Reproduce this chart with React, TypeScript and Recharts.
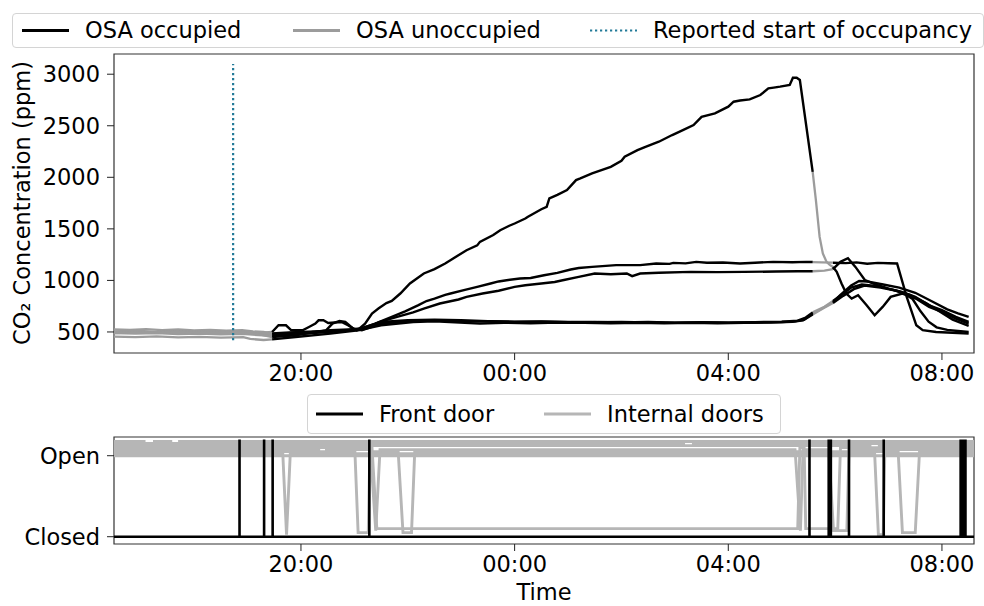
import React from "react";
import { LineChart, Line, XAxis, YAxis, ReferenceArea } from "recharts";

// time axis in hours since midnight of the first evening (32 = 08:00 next day)
const X_MIN = 16.5;
const X_MAX = 32.6;
const TIME_TICKS = [20, 24, 28, 32];
const CO2_MIN = 296;
const CO2_MAX = 3196;
const CO2_TICKS = [500, 1000, 1500, 2000, 2500, 3000];
const UNOCCUPIED = [
  [X_MIN, 19.46],
  [29.58, 29.96],
];
const OCCUPIED = [
  [19.46, 29.58],
  [29.96, X_MAX],
];
const REPORTED_START = 18.73;
const REPORTED_SPAN = [420, 3100];

// CO2 traces, [hour, ppm]
const OSA_1 = [
  [16.5, 525], [16.8, 520], [17.1, 528], [17.4, 518], [17.7, 524], [18.0, 515], [18.3, 520], [18.6, 512], [18.9, 518], [19.1, 505], [19.3, 500], [19.46, 485],
  [19.7, 492], [20.0, 500], [20.3, 505], [20.6, 512], [20.9, 518], [21.07, 522], [21.2, 580], [21.33, 679], [21.45, 727], [21.6, 780], [21.7, 801], [21.86, 873],
  [22.04, 970], [22.3, 1067], [22.5, 1110], [22.7, 1164], [22.85, 1213], [23.1, 1293], [23.3, 1340], [23.35, 1374], [23.6, 1440], [23.73, 1487], [23.9, 1530],
  [24.0, 1552], [24.2, 1600], [24.25, 1617], [24.5, 1690], [24.6, 1714], [24.65, 1795], [24.8, 1830], [24.98, 1876], [25.15, 1973], [25.23, 1989], [25.45, 2038],
  [25.8, 2102], [26.0, 2160], [26.06, 2199], [26.3, 2264], [26.45, 2296], [26.7, 2345], [26.95, 2410], [27.15, 2458], [27.35, 2507], [27.5, 2587], [27.75, 2620],
  [28.0, 2685], [28.1, 2733], [28.22, 2745], [28.4, 2756], [28.6, 2798], [28.75, 2863], [28.85, 2870], [28.97, 2879], [29.15, 2895], [29.21, 2966], [29.28, 2966],
  [29.34, 2944], [29.58, 2053], [29.64, 1779], [29.71, 1422], [29.77, 1261], [29.84, 1180], [29.9, 1150], [29.96, 1131],
  [30.03, 1083], [30.12, 970], [30.21, 873], [30.31, 824], [30.43, 856], [30.59, 759], [30.74, 662], [30.89, 743], [31.04, 840], [31.26, 873], [31.51, 824],
  [31.76, 743], [32.0, 694], [32.26, 630], [32.5, 581],
];
const OSA_2 = [
  [16.5, 500], [16.9, 495], [17.3, 498], [17.7, 492], [18.1, 495], [18.5, 488], [18.9, 490], [19.2, 482], [19.46, 478],
  [19.8, 490], [20.2, 500], [20.55, 516], [20.9, 525], [21.12, 533], [21.39, 581], [21.7, 646], [21.95, 700], [22.2, 760], [22.35, 800], [22.5, 824], [22.7, 860],
  [22.8, 873], [23.05, 905], [23.3, 937], [23.55, 970], [23.7, 990], [23.85, 1002], [24.1, 1018], [24.3, 1024], [24.55, 1050], [24.8, 1073], [25.05, 1106],
  [25.2, 1120], [25.45, 1131], [25.9, 1148], [26.35, 1148], [26.65, 1164], [26.9, 1160], [26.97, 1170], [27.2, 1165], [27.4, 1180], [27.6, 1172], [27.9, 1174],
  [28.22, 1164], [28.5, 1172], [28.84, 1180], [29.2, 1176], [29.46, 1180], [29.58, 1178], [29.75, 1175], [29.96, 1172],
  [30.2, 1168], [30.4, 1175], [30.6, 1162], [30.8, 1170], [31.0, 1166], [31.16, 1164], [31.34, 840], [31.52, 565], [31.64, 517], [31.89, 500], [32.2, 492], [32.5, 484],
];
const OSA_3 = [
  [16.5, 490], [16.9, 485], [17.3, 488], [17.7, 480], [18.1, 484], [18.5, 478], [18.9, 482], [19.2, 470], [19.46, 462],
  [19.8, 475], [20.2, 490], [20.55, 500], [20.9, 520], [21.2, 533], [21.48, 597], [21.8, 646], [22.1, 690], [22.3, 727], [22.6, 776], [22.95, 815], [23.1, 840],
  [23.4, 873], [23.7, 900], [24.0, 937], [24.2, 953], [24.5, 970], [24.75, 985], [24.9, 1002], [25.2, 1034], [25.5, 1067], [25.8, 1060], [26.1, 1067], [26.2, 1041],
  [26.35, 1067], [26.7, 1075], [27.3, 1083], [27.8, 1080], [28.3, 1083], [28.9, 1086], [29.3, 1089], [29.58, 1089], [29.8, 1095], [29.96, 1110],
  [30.1, 1180], [30.24, 1215], [30.38, 1131], [30.56, 1002], [30.8, 953], [31.0, 921], [31.25, 888], [31.5, 840], [31.76, 759], [32.0, 711], [32.26, 646], [32.5, 597],
];
const OSA_4 = [
  [16.5, 505], [16.9, 512], [17.3, 500], [17.7, 508], [18.1, 498], [18.5, 505], [18.9, 500], [19.2, 492], [19.46, 500],
  [19.58, 565], [19.72, 565], [19.82, 516], [20.03, 516], [20.15, 548], [20.27, 581], [20.33, 613], [20.42, 613], [20.51, 587], [20.76, 597], [20.88, 565],
  [21.04, 516], [21.2, 548], [21.5, 597], [22.0, 615], [22.5, 618], [23.0, 613], [23.5, 605], [24.0, 600], [24.5, 603], [25.0, 598], [25.5, 595], [26.0, 598],
  [26.5, 593], [27.0, 590], [27.5, 592], [28.0, 588], [28.5, 592], [29.0, 597], [29.25, 603], [29.42, 620], [29.58, 680], [29.75, 725], [29.96, 790],
  [30.1, 860], [30.3, 950], [30.45, 995], [30.6, 990], [30.9, 960], [31.2, 930], [31.5, 880], [31.8, 800], [32.1, 720], [32.3, 680], [32.5, 646],
];
const OSA_5 = [
  [16.5, 490], [16.9, 497], [17.3, 492], [17.7, 500], [18.1, 490], [18.5, 495], [18.9, 488], [19.2, 480], [19.46, 451],
  [19.9, 468], [20.47, 516], [20.59, 581], [20.72, 607], [20.83, 597], [20.98, 533], [21.14, 516], [21.5, 581], [22.0, 607], [22.5, 612], [23.0, 600], [23.5, 604],
  [24.0, 596], [24.5, 600], [25.0, 594], [25.5, 597], [26.0, 592], [26.5, 596], [27.0, 590], [27.5, 594], [28.0, 592], [28.5, 595], [29.0, 600], [29.3, 610],
  [29.45, 640], [29.58, 690], [29.8, 745], [29.96, 800],
  [30.15, 870], [30.3, 930], [30.5, 960], [30.8, 945], [31.1, 905], [31.3, 870], [31.45, 820], [31.6, 700], [31.75, 600], [31.9, 545], [32.1, 520], [32.3, 510], [32.5, 500],
];
const OSA_6 = [
  [16.5, 455], [16.9, 450], [17.3, 458], [17.7, 448], [18.1, 452], [18.5, 446], [18.92, 450], [19.05, 432], [19.3, 422], [19.46, 428],
  [19.9, 451], [20.55, 484], [21.07, 516], [21.5, 565], [22.1, 597], [22.5, 603], [23.35, 581], [23.8, 590], [24.3, 585], [24.8, 592], [25.3, 588], [25.8, 584],
  [26.3, 590], [26.8, 585], [27.3, 588], [27.8, 583], [28.3, 588], [28.8, 592], [29.2, 598], [29.4, 612], [29.58, 670], [29.78, 730], [29.96, 780],
  [30.15, 850], [30.35, 915], [30.55, 950], [30.85, 930], [31.15, 900], [31.4, 860], [31.7, 780], [31.95, 700], [32.2, 620], [32.5, 560],
];
const OSA_TRACES = [OSA_1, OSA_2, OSA_3, OSA_4, OSA_5, OSA_6];

// door sensors: closed = 0, open = 1, null = no reading
const DOOR_MIN = -0.09;
const DOOR_MAX = 1.231;
const FRONT_DOOR_OPEN_LEVEL = 1.2;
const FRONT_DOOR_OPENINGS = [18.85, 19.31, 19.47, 21.28, 29.52, 29.88, 29.92, 30.26, 30.91, 32.35, 32.38, 32.41, 32.44];
const INTERNAL_DOOR_OFFSETS = [0, 0.025, 0.05, 0.075, 0.1, 0.125, 0.15, 0.175];
const INTERNAL_DOOR_1 = [[16.5, 1], [32.6, 1]];
const INTERNAL_DOOR_2 = [[16.5, 1], [19.66, 1], [19.73, 0], [19.8, 1], [30.74, 1], [30.81, 0], [30.9, 0], [30.93, 1], [32.6, 1]];
const INTERNAL_DOOR_3 = [
  [16.5, 1], [21.01, 1], [21.07, 0], [21.26, 0], [21.29, 1], [21.82, 1], [21.91, 0], [22.07, 0], [22.13, 1],
  [31.18, 1], [31.26, 0], [31.5, 0], [31.58, 1], [32.6, 1],
];
const INTERNAL_DOOR_4 = [
  [16.5, 1], [20.36, 1], [20.4, null], [20.45, 1], [21.3, 1], [21.4, 0], [21.48, 1], [29.25, 1], [29.35, 0], [29.4, 1],
  [29.88, 1], [29.97, 0], [30.22, 0], [30.26, 1], [32.6, 1],
];
const INTERNAL_DOOR_5 = [[16.5, 1], [21.33, 1], [21.42, 0], [29.3, 0], [29.34, 1], [29.42, 1], [29.45, 0], [30.05, 0], [30.1, 1], [32.6, 1]];
const INTERNAL_DOOR_6 = [[16.5, 1], [30.68, 1], [30.74, null], [30.8, 1], [32.6, 1]];
const INTERNAL_DOOR_7 = [[16.5, 1], [27.19, 1], [27.25, null], [27.32, 1], [32.6, 1]];
const INTERNAL_DOOR_8 = [[16.5, 1], [17.09, 1], [17.16, null], [17.23, 1], [17.59, 1], [17.65, null], [17.7, 1], [32.6, 1]];
const INTERNAL_DOORS = [
  INTERNAL_DOOR_1, INTERNAL_DOOR_2, INTERNAL_DOOR_3, INTERNAL_DOOR_4,
  INTERNAL_DOOR_5, INTERNAL_DOOR_6, INTERNAL_DOOR_7, INTERNAL_DOOR_8,
];

const FONT = "'DejaVu Sans', sans-serif";
const FS = 22.5;
const BLACK = "#000000";
const GREY = "#9c9c9c";
const DOOR_GREY = "#b6b6b6";
const TEAL = "#227a98";

const hhmm = (h: number) => `${String(h % 24).padStart(2, "0")}:00`;

const toPts = (arr: any[]) => arr.map(([t, v]) => ({ t, v }));
const within = (arr: any[], [a, b]: number[]) => toPts(arr.filter(([t]) => t >= a && t <= b));

const tickStyle = { fontFamily: FONT, fontSize: FS, fill: "#000" };

function LegendBox({ style, items }: { style: any; items: any[] }) {
  return (
    <div
      style={{
        position: "absolute",
        boxSizing: "border-box",
        border: "1px solid #d4d4d4",
        borderRadius: 4,
        background: "#fff",
        fontFamily: FONT,
        fontSize: FS,
        ...style,
      }}
    >
      {items.map((it) => (
        <div key={it.label}>
          <svg style={{ position: "absolute", left: it.x, top: 0 }} width={48} height={style.height}>
            <line
              x1={0}
              x2={47}
              y1={style.height / 2 - 1}
              y2={style.height / 2 - 1}
              stroke={it.color}
              strokeWidth={it.dash ? 2.2 : 2.8}
              strokeDasharray={it.dash}
            />
          </svg>
          <span style={{ position: "absolute", left: it.x + 63, top: 0, lineHeight: `${style.height - 2}px`, whiteSpace: "nowrap" }}>
            {it.label}
          </span>
        </div>
      ))}
    </div>
  );
}

export default function App() {
  const frontDoor = [{ t: X_MIN, v: 0 }];
  FRONT_DOOR_OPENINGS.forEach((t) => {
    frontDoor.push({ t, v: 0 }, { t, v: FRONT_DOOR_OPEN_LEVEL }, { t, v: 0 });
  });
  frontDoor.push({ t: X_MAX, v: 0 });

  return (
    <div style={{ position: "relative", width: 984, height: 606, background: "#fff", overflow: "hidden" }}>
      <style>{`body{margin:0}`}</style>

      <div style={{ position: "absolute", left: 0, top: 0 }}>
        <LineChart width={984} height={393} margin={{ top: 54, right: 10, bottom: 0, left: 0 }}>
          <XAxis
            dataKey="t"
            type="number"
            domain={[X_MIN, X_MAX]}
            allowDataOverflow
            ticks={TIME_TICKS}
            tickFormatter={hhmm}
            tick={tickStyle}
            tickSize={7}
            tickMargin={5}
            tickLine={{ stroke: "#222" }}
            axisLine={false}
            height={40}
          />
          <YAxis
            dataKey="v"
            type="number"
            domain={[CO2_MIN, CO2_MAX]}
            allowDataOverflow
            ticks={CO2_TICKS}
            tick={tickStyle}
            tickSize={7}
            tickMargin={7}
            tickLine={{ stroke: "#222" }}
            axisLine={false}
            width={114}
            label={{
              content: () => (
                <text
                  x={22}
                  y={203}
                  transform="rotate(-90 22 203)"
                  textAnchor="middle"
                  dominantBaseline="central"
                  style={{ fontFamily: FONT, fontSize: FS }}
                >
                  CO₂ Concentration (ppm)
                </text>
              ),
            }}
          />
          <ReferenceArea x1={X_MIN} x2={X_MAX} y1={CO2_MIN} y2={CO2_MAX} fill="none" stroke="#333" strokeWidth={1.2} />
          {OSA_TRACES.map((tr, i) =>
            UNOCCUPIED.map((r, j) => (
              <Line
                key={`u${i}-${j}`}
                data={within(tr, r)}
                dataKey="v"
                type="linear"
                stroke={GREY}
                strokeWidth={2.3}
                dot={false}
                isAnimationActive={false}
              />
            ))
          )}
          {OSA_TRACES.map((tr, i) =>
            OCCUPIED.map((r, j) => (
              <Line
                key={`o${i}-${j}`}
                data={within(tr, r)}
                dataKey="v"
                type="linear"
                stroke={BLACK}
                strokeWidth={2.4}
                dot={false}
                isAnimationActive={false}
              />
            ))
          )}
          <Line
            data={REPORTED_SPAN.map((v) => ({ t: REPORTED_START, v }))}
            dataKey="v"
            stroke={TEAL}
            strokeWidth={2.2}
            strokeDasharray="2.2 2.8"
            dot={false}
            isAnimationActive={false}
          />
        </LineChart>
      </div>

      <div style={{ position: "absolute", left: 0, top: 400 }}>
        <LineChart width={984} height={206} margin={{ top: 37, right: 10, bottom: 0, left: 0 }}>
          <XAxis
            dataKey="t"
            type="number"
            domain={[X_MIN, X_MAX]}
            allowDataOverflow
            ticks={TIME_TICKS}
            tickFormatter={hhmm}
            tick={tickStyle}
            tickSize={7}
            tickMargin={5}
            tickLine={{ stroke: "#222" }}
            axisLine={false}
            height={62}
            label={{
              content: () => (
                <text x={544} y={192} textAnchor="middle" dominantBaseline="central" style={{ fontFamily: FONT, fontSize: FS }}>
                  Time
                </text>
              ),
            }}
          />
          <YAxis
            dataKey="v"
            type="number"
            domain={[DOOR_MIN, DOOR_MAX]}
            allowDataOverflow
            ticks={[0, 1]}
            tickFormatter={(v: number) => (v === 1 ? "Open" : "Closed")}
            tick={tickStyle}
            tickSize={7}
            tickMargin={7}
            tickLine={{ stroke: "#222" }}
            axisLine={false}
            width={114}
          />
          <ReferenceArea x1={X_MIN} x2={X_MAX} y1={DOOR_MIN} y2={DOOR_MAX} fill="none" stroke="#333" strokeWidth={1.2} />
          {INTERNAL_DOORS.map((d, i) => (
            <Line
              key={`d${i}`}
              data={d.map(([t, s]) => ({ t, v: s == null ? null : s + INTERNAL_DOOR_OFFSETS[i] }))}
              dataKey="v"
              type="linear"
              stroke={DOOR_GREY}
              strokeWidth={2.9}
              dot={false}
              connectNulls={false}
              isAnimationActive={false}
            />
          ))}
          <Line data={frontDoor} dataKey="v" type="linear" stroke={BLACK} strokeWidth={2.6} dot={false} isAnimationActive={false} />
        </LineChart>
      </div>

      <LegendBox
        style={{ left: 12, top: 13, width: 972, height: 35 }}
        items={[
          { label: "OSA occupied", color: BLACK, x: 9 },
          { label: "OSA unoccupied", color: GREY, x: 280 },
          { label: "Reported start of occupancy", color: TEAL, x: 577, dash: "2.2 2.8" },
        ]}
      />
      <LegendBox
        style={{ left: 307, top: 394, width: 474, height: 40 }}
        items={[
          { label: "Front door", color: BLACK, x: 8 },
          { label: "Internal doors", color: DOOR_GREY, x: 236 },
        ]}
      />
    </div>
  );
}
